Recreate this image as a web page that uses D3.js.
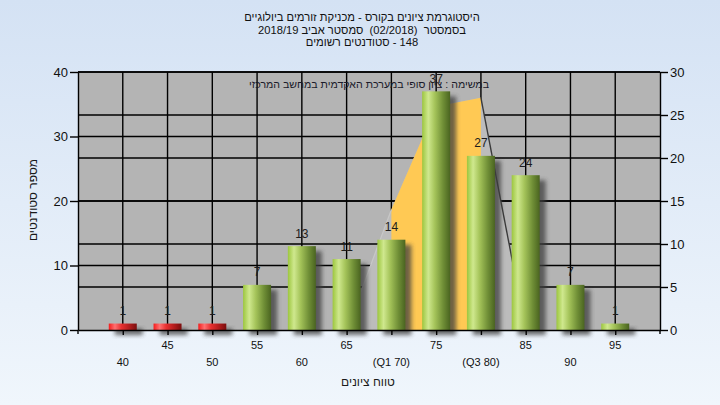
<!DOCTYPE html>
<html><head><meta charset="utf-8">
<script src="https://cdn.jsdelivr.net/npm/d3@7"></script>
<style>
html,body{margin:0;padding:0;background:#fff;}
svg text{font-family:"Liberation Sans",Arial,sans-serif;white-space:pre;}
</style></head>
<body><svg id="c" width="720" height="405"></svg>
<script>
// ---- data ----
const categories = [40,45,50,55,60,65,70,75,80,85,90,95];
const xLabels = ["40","45","50","55","60","65","(Q1 70)","75","(Q3 80)","85","90","95"];
const counts = [1,1,1,7,13,11,14,37,27,24,7,1];
const failLimit = 55;
const curveX = [65,70,75,80,85];
const curveY = [0,14,26,27,0];
const q1 = 70, q3 = 80;
const leftTicks = [0,10,20,30,40];
const rightTicks = [0,5,10,15,20,25,30];
const titleLines = ["היסטוגרמת ציונים בקורס - מכניקת זורמים ביולוגיים",
                    "בסמסטר  (02/2018)  סמסטר אביב 2018/19",
                    "148 - סטודנטים רשומים"];
const subTitle = "במשימה : ציון סופי במערכת האקדמית במחשב המרכזי";
const xTitle = "טווח ציונים";
const yTitle = "מספר סטודנטים";

// ---- layout ----
const L = 78, R = 660, T = 72, B = 330;
const svg = d3.select("#c");
const defs = svg.append("defs");

const bg = defs.append("linearGradient").attr("id","bg").attr("x1",0).attr("y1",0).attr("x2",0).attr("y2",1);
bg.append("stop").attr("offset","0%").attr("stop-color","#d4e2f4");
bg.append("stop").attr("offset","100%").attr("stop-color","#f0f6fc");

function cyl(id, stops){
  const g = defs.append("linearGradient").attr("id",id).attr("x1",0).attr("y1",0).attr("x2",1).attr("y2",0);
  stops.forEach(s=>g.append("stop").attr("offset",s[0]).attr("stop-color",s[1]));
}
cyl("gGreen",[["0%","#9cc63e"],["22%","#cfe88e"],["45%","#a5c45a"],["75%","#6f8e36"],["100%","#4a6420"]]);
cyl("gRed",[["0%","#f41c1c"],["22%","#ff7070"],["45%","#e83030"],["75%","#b01c1c"],["100%","#7a0e0e"]]);

const blur = defs.append("filter").attr("id","blur").attr("x","-50%").attr("y","-50%").attr("width","200%").attr("height","200%");
blur.append("feGaussianBlur").attr("stdDeviation",2.2);

const clip = defs.append("clipPath").attr("id","plotclip");
clip.append("rect").attr("x",L).attr("y",T).attr("width",R-L).attr("height",B-T);

svg.append("rect").attr("width",720).attr("height",405).attr("fill","url(#bg)");

const x = d3.scaleLinear().domain([35,100]).range([L,R]);
const yL = d3.scaleLinear().domain([0,40]).range([B,T]);
const yR = d3.scaleLinear().domain([0,30]).range([B,T]);

// plot background
svg.append("rect").attr("x",L).attr("y",T).attr("width",R-L).attr("height",B-T).attr("fill","#b4b4b4");

// gridlines
const grid = svg.append("g").attr("stroke","#000").attr("stroke-width",1.4);
leftTicks.filter(v=>v>0).forEach(v=>grid.append("line").attr("x1",L).attr("x2",R).attr("y1",yL(v)).attr("y2",yL(v)));
rightTicks.filter(v=>v>0).forEach(v=>grid.append("line").attr("x1",L).attr("x2",R).attr("y1",yR(v)).attr("y2",yR(v)));
categories.forEach(c=>grid.append("line").attr("x1",x(c)).attr("x2",x(c)).attr("y1",T).attr("y2",B));

// curve area
const pts = curveX.map((c,i)=>[c,curveY[i]]);
const area = d3.area().x(d=>x(d[0])).y0(B).y1(d=>yR(d[1]));
const pg = svg.append("g").attr("clip-path","url(#plotclip)");
pg.append("path").datum(pts).attr("d",area).attr("fill","#bcbcbc");
const inner = pts.filter(d=>d[0]>=q1 && d[0]<=q3);
pg.append("path").datum(inner).attr("d",area).attr("fill","#ffc954");
const line = d3.line().x(d=>x(d[0])).y(d=>yR(d[1]));
pg.append("path").datum(pts.filter(d=>d[0]<=q1)).attr("d",line).attr("fill","none").attr("stroke","#c8c8c8").attr("stroke-width",1.2);
pg.append("path").datum(pts.filter(d=>d[0]>=q3)).attr("d",line).attr("fill","none").attr("stroke","#3a3a3a").attr("stroke-width",1.4);

// subtitle inside plot
svg.append("text").attr("x",(L+R)/2).attr("y",88).attr("text-anchor","middle").attr("direction","rtl")
  .attr("font-size",10.6).attr("fill","#1a1a2a").text(subTitle);

// bars
const bw = 28;
const bars = svg.append("g");
categories.forEach((c,i)=>{
  const v = counts[i];
  const y0 = yL(v);
  bars.append("rect").attr("x",x(c)-bw/2+6).attr("y",y0+5).attr("width",bw).attr("height",B-y0)
    .attr("fill","#3c3c3c").attr("opacity",0.75).attr("filter","url(#blur)");
});
categories.forEach((c,i)=>{
  const v = counts[i];
  const y0 = yL(v);
  bars.append("rect").attr("x",x(c)-bw/2).attr("y",y0).attr("width",bw).attr("height",B-y0)
    .attr("fill", c < failLimit ? "url(#gRed)" : "url(#gGreen)");
});

// value labels
categories.forEach((c,i)=>{
  svg.append("text").attr("x",x(c)).attr("y",yL(counts[i])-8.5).attr("text-anchor","middle")
    .attr("font-size",12).attr("fill","#1c1c1c").text(counts[i]);
});

// axes
const axL = d3.axisLeft(yL).tickValues(leftTicks).tickSize(8).tickSizeOuter(0).tickPadding(2);
const gL = svg.append("g").attr("transform",`translate(${L},0)`).call(axL);
const axR = d3.axisRight(yR).tickValues(rightTicks).tickSize(8).tickSizeOuter(0).tickPadding(2);
const gR = svg.append("g").attr("transform",`translate(${R},0)`).call(axR);
const axB = d3.axisBottom(x).tickValues(categories).tickSize(5).tickSizeOuter(0).tickFormat("");
const gB = svg.append("g").attr("transform",`translate(0,${B})`).call(axB);
[gL,gR,gB].forEach(g=>{
  g.selectAll("path,line").attr("stroke","#000").attr("stroke-width",1.4);
  g.selectAll("text").attr("font-size",13).attr("fill","#111").attr("font-family","Liberation Sans, Arial, sans-serif");
});
svg.append("line").attr("x1",L).attr("x2",L).attr("y1",B).attr("y2",B+4).attr("stroke","#000").attr("stroke-width",1.4);
svg.append("line").attr("x1",R).attr("x2",R).attr("y1",B).attr("y2",B+4).attr("stroke","#000").attr("stroke-width",1.4);

// x labels, alternating rows
categories.forEach((c,i)=>{
  svg.append("text").attr("x",x(c)).attr("y", i%2===1 ? 349 : 366).attr("text-anchor","middle")
    .attr("font-size",11).attr("fill","#111").text(xLabels[i]);
});

// titles
titleLines.forEach((t,i)=>{
  svg.append("text").attr("x",362).attr("y",21+i*12.5).attr("text-anchor","middle").attr("direction","rtl")
    .attr("font-size",11.2).attr("fill","#111").text(t);
});
svg.append("text").attr("x",368).attr("y",386).attr("text-anchor","middle").attr("direction","rtl")
  .attr("font-size",12).attr("fill","#1a1a1a").text(xTitle);
svg.append("text").attr("transform","translate(37,200) rotate(-90)").attr("text-anchor","middle").attr("direction","rtl")
  .attr("font-size",12).attr("fill","#1a1a1a").text(yTitle);
</script></body></html>
